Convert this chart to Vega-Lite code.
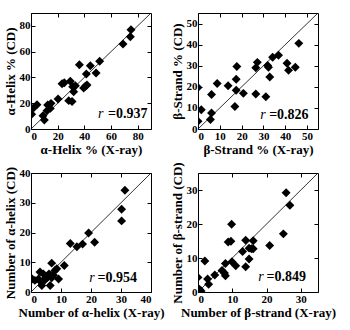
{
  "$schema": "https://vega.github.io/schema/vega-lite/v6.json",
  "padding": {"left": 3, "top": 12, "right": 5, "bottom": 2},
  "background": "white",
  "datasets": {
    "a": [
      {"x": 0.5, "y": 11.4}, {"x": 2, "y": 16.5}, {"x": 4.5, "y": 18.9}, {"x": 10, "y": 7},
      {"x": 9, "y": 10.3}, {"x": 12, "y": 14.2}, {"x": 12.5, "y": 18.6}, {"x": 15, "y": 19.9},
      {"x": 14.5, "y": 16}, {"x": 20.3, "y": 23.3}, {"x": 23.3, "y": 35.1}, {"x": 25, "y": 35.9},
      {"x": 28.3, "y": 22}, {"x": 30.8, "y": 21.4}, {"x": 29.5, "y": 37}, {"x": 31.3, "y": 32.8},
      {"x": 32, "y": 28.9}, {"x": 33.3, "y": 33.6}, {"x": 36.3, "y": 49.9}, {"x": 39.5, "y": 31.8},
      {"x": 40.8, "y": 33.1}, {"x": 42, "y": 34.1}, {"x": 41.5, "y": 42.6}, {"x": 44.5, "y": 49.1},
      {"x": 48.8, "y": 43.4}, {"x": 51.5, "y": 52.5}, {"x": 69, "y": 65.9}, {"x": 74.5, "y": 71.6},
      {"x": 75, "y": 77}
    ],
    "b": [
      {"x": 0, "y": 19.7}, {"x": 0, "y": 3.7}, {"x": 1.5, "y": 9.1}, {"x": 5.7, "y": 4.5},
      {"x": 6.2, "y": 7.6}, {"x": 6.2, "y": 16.4}, {"x": 8.8, "y": 21.6}, {"x": 13.8, "y": 20.5},
      {"x": 16.9, "y": 10.7}, {"x": 17.5, "y": 23.6}, {"x": 17.8, "y": 29.6}, {"x": 17.5, "y": 18.4},
      {"x": 20.8, "y": 16.9}, {"x": 26.5, "y": 16.6}, {"x": 26.5, "y": 29}, {"x": 27.2, "y": 31.6},
      {"x": 31.1, "y": 15.3}, {"x": 31.9, "y": 30.1}, {"x": 32.3, "y": 29.3}, {"x": 32.9, "y": 24.7},
      {"x": 34.2, "y": 34}, {"x": 36.9, "y": 35}, {"x": 40.8, "y": 31.2}, {"x": 41.5, "y": 27.8},
      {"x": 44.6, "y": 29.3}, {"x": 46.2, "y": 40.6}
    ],
    "c": [
      {"x": 0.4, "y": 4.4}, {"x": 1.3, "y": 3.9}, {"x": 3, "y": 6.7}, {"x": 3.4, "y": 3.3},
      {"x": 4.1, "y": 6.1}, {"x": 3.6, "y": 2.2}, {"x": 4.7, "y": 4.1}, {"x": 5.3, "y": 4.8},
      {"x": 5.8, "y": 5.2}, {"x": 6.4, "y": 2.2}, {"x": 6.9, "y": 9.7}, {"x": 6.9, "y": 4.8},
      {"x": 7.5, "y": 5.6}, {"x": 8, "y": 7.2}, {"x": 8.6, "y": 7.8}, {"x": 9.2, "y": 4.4},
      {"x": 11.1, "y": 8.9}, {"x": 2.5, "y": 4.4}, {"x": 4.1, "y": 3.9}, {"x": 6, "y": 6.1},
      {"x": 13.1, "y": 16.3}, {"x": 15.3, "y": 15.2}, {"x": 17.2, "y": 16.1}, {"x": 19.2, "y": 19.8},
      {"x": 21.2, "y": 16.7}, {"x": 30.2, "y": 27.8}, {"x": 30.2, "y": 23.9}, {"x": 31.3, "y": 34.2}
    ],
    "d": [
      {"x": 0, "y": 4.3}, {"x": 0.4, "y": 0.8}, {"x": 0.9, "y": 0.3}, {"x": 2, "y": 9.1},
      {"x": 2.8, "y": 3.8}, {"x": 3.1, "y": 2.3}, {"x": 4.9, "y": 5}, {"x": 7, "y": 6.3},
      {"x": 7.7, "y": 5.6}, {"x": 8, "y": 4.8}, {"x": 8, "y": 8.4}, {"x": 8.8, "y": 14.7},
      {"x": 9.6, "y": 14.9}, {"x": 9.8, "y": 19.9}, {"x": 9.9, "y": 8.9}, {"x": 11, "y": 7.7},
      {"x": 13, "y": 11.9}, {"x": 13.9, "y": 15.2}, {"x": 13.9, "y": 7.4}, {"x": 14.9, "y": 9.7},
      {"x": 14.9, "y": 12.9}, {"x": 15.6, "y": 12.7}, {"x": 16.1, "y": 12.7}, {"x": 16.1, "y": 15.1},
      {"x": 20.9, "y": 13.7}, {"x": 24.9, "y": 17.1}, {"x": 25.7, "y": 29.2}, {"x": 26.8, "y": 25.5}
    ]
  },
  "concat": [
    {
      "width": 120, "height": 116,
      "layer": [
        {
          "data": {"name": "a"},
          "mark": {"type": "point", "shape": "diamond", "filled": true, "color": "black", "size": 80, "opacity": 1, "clip": true},
          "encoding": {
            "x": {"field": "x", "type": "quantitative", "scale": {"domain": [0, 90], "nice": false, "zero": false},
                  "axis": {"orient": "bottom", "values": [0, 20, 40, 60, 80], "title": "α-Helix % (X-ray)"}},
            "y": {"field": "y", "type": "quantitative", "scale": {"domain": [0, 90], "nice": false, "zero": false},
                  "axis": {"orient": "left", "values": [0, 20, 40, 60, 80], "title": "α-Helix % (CD)"}}
          }
        },
        {
          "data": {"values": [{}]},
          "mark": {"type": "rule", "color": "black", "strokeWidth": 0.8},
          "encoding": {
            "x": {"datum": 0, "type": "quantitative", "axis": {"orient": "top", "labels": false, "title": null, "values": [0, 20, 40, 60, 80]}},
            "y": {"datum": 0, "type": "quantitative", "axis": {"orient": "right", "labels": false, "title": null, "values": [0, 20, 40, 60, 80]}},
            "x2": {"datum": 90}, "y2": {"datum": 90}
          }
        },
        {
          "data": {"values": [{}]},
          "mark": {"type": "text", "text": "r", "font": "Liberation Serif", "fontStyle": "italic", "fontSize": 14, "align": "left", "baseline": "middle"},
          "encoding": {"x": {"datum": 50.3, "type": "quantitative", "axis": null}, "y": {"datum": 11.6, "type": "quantitative", "axis": null}}
        },
        {
          "data": {"values": [{}]},
          "mark": {"type": "text", "text": "=0.937", "font": "Liberation Serif", "fontWeight": "bold", "fontSize": 14, "align": "left", "baseline": "middle"},
          "encoding": {"x": {"datum": 57.8, "type": "quantitative", "axis": null}, "y": {"datum": 11.6, "type": "quantitative", "axis": null}}
        }
      ],
      "resolve": {"axis": {"x": "independent", "y": "independent"}}
    },
    {
      "width": 120, "height": 116,
      "layer": [
        {
          "data": {"name": "b"},
          "mark": {"type": "point", "shape": "diamond", "filled": true, "color": "black", "size": 80, "opacity": 1, "clip": true},
          "encoding": {
            "x": {"field": "x", "type": "quantitative", "scale": {"domain": [0, 55], "nice": false, "zero": false},
                  "axis": {"orient": "bottom", "values": [0, 10, 20, 30, 40, 50], "title": "β-Strand % (X-ray)"}},
            "y": {"field": "y", "type": "quantitative", "scale": {"domain": [0, 55], "nice": false, "zero": false},
                  "axis": {"orient": "left", "values": [0, 10, 20, 30, 40, 50], "title": "β-Strand % (CD)"}}
          }
        },
        {
          "data": {"values": [{}]},
          "mark": {"type": "rule", "color": "black", "strokeWidth": 0.8},
          "encoding": {
            "x": {"datum": 0, "type": "quantitative", "axis": {"orient": "top", "labels": false, "title": null, "values": [0, 10, 20, 30, 40, 50]}},
            "y": {"datum": 0, "type": "quantitative", "axis": {"orient": "right", "labels": false, "title": null, "values": [0, 10, 20, 30, 40, 50]}},
            "x2": {"datum": 55}, "y2": {"datum": 55}
          }
        },
        {
          "data": {"values": [{}]},
          "mark": {"type": "text", "text": "r", "font": "Liberation Serif", "fontStyle": "italic", "fontSize": 14, "align": "left", "baseline": "middle"},
          "encoding": {"x": {"datum": 28.5, "type": "quantitative", "axis": null}, "y": {"datum": 6.6, "type": "quantitative", "axis": null}}
        },
        {
          "data": {"values": [{}]},
          "mark": {"type": "text", "text": "=0.826", "font": "Liberation Serif", "fontWeight": "bold", "fontSize": 14, "align": "left", "baseline": "middle"},
          "encoding": {"x": {"datum": 32.6, "type": "quantitative", "axis": null}, "y": {"datum": 6.6, "type": "quantitative", "axis": null}}
        }
      ],
      "resolve": {"axis": {"x": "independent", "y": "independent"}}
    },
    {
      "width": 120, "height": 119,
      "layer": [
        {
          "data": {"name": "c"},
          "mark": {"type": "point", "shape": "diamond", "filled": true, "color": "black", "size": 80, "opacity": 1, "clip": true},
          "encoding": {
            "x": {"field": "x", "type": "quantitative", "scale": {"domain": [0, 40], "nice": false, "zero": false},
                  "axis": {"orient": "bottom", "values": [0, 10, 20, 30, 40], "title": "Number of α-helix (X-ray)"}},
            "y": {"field": "y", "type": "quantitative", "scale": {"domain": [0, 40], "nice": false, "zero": false},
                  "axis": {"orient": "left", "values": [0, 10, 20, 30, 40], "title": "Number of α-helix (CD)"}}
          }
        },
        {
          "data": {"values": [{}]},
          "mark": {"type": "rule", "color": "black", "strokeWidth": 0.8},
          "encoding": {
            "x": {"datum": 0, "type": "quantitative", "axis": {"orient": "top", "labels": false, "title": null, "values": [0, 10, 20, 30, 40]}},
            "y": {"datum": 0, "type": "quantitative", "axis": {"orient": "right", "labels": false, "title": null, "values": [0, 10, 20, 30, 40]}},
            "x2": {"datum": 40}, "y2": {"datum": 40}
          }
        },
        {
          "data": {"values": [{}]},
          "mark": {"type": "text", "text": "r", "font": "Liberation Serif", "fontStyle": "italic", "fontSize": 14, "align": "left", "baseline": "middle"},
          "encoding": {"x": {"datum": 19.4, "type": "quantitative", "axis": null}, "y": {"datum": 4.7, "type": "quantitative", "axis": null}}
        },
        {
          "data": {"values": [{}]},
          "mark": {"type": "text", "text": "=0.954", "font": "Liberation Serif", "fontWeight": "bold", "fontSize": 14, "align": "left", "baseline": "middle"},
          "encoding": {"x": {"datum": 22.2, "type": "quantitative", "axis": null}, "y": {"datum": 4.7, "type": "quantitative", "axis": null}}
        }
      ],
      "resolve": {"axis": {"x": "independent", "y": "independent"}}
    },
    {
      "width": 120, "height": 119,
      "layer": [
        {
          "data": {"name": "d"},
          "mark": {"type": "point", "shape": "diamond", "filled": true, "color": "black", "size": 80, "opacity": 1, "clip": true},
          "encoding": {
            "x": {"field": "x", "type": "quantitative", "scale": {"domain": [0, 35], "nice": false, "zero": false},
                  "axis": {"orient": "bottom", "values": [0, 10, 20, 30], "title": "Number of  β-strand (X-ray)"}},
            "y": {"field": "y", "type": "quantitative", "scale": {"domain": [0, 35], "nice": false, "zero": false},
                  "axis": {"orient": "left", "values": [0, 10, 20, 30], "title": "Number of  β-strand (CD)"}}
          }
        },
        {
          "data": {"values": [{}]},
          "mark": {"type": "rule", "color": "black", "strokeWidth": 0.8},
          "encoding": {
            "x": {"datum": 0, "type": "quantitative", "axis": {"orient": "top", "labels": false, "title": null, "values": [0, 10, 20, 30]}},
            "y": {"datum": 0, "type": "quantitative", "axis": {"orient": "right", "labels": false, "title": null, "values": [0, 10, 20, 30]}},
            "x2": {"datum": 35}, "y2": {"datum": 35}
          }
        },
        {
          "data": {"values": [{}]},
          "mark": {"type": "text", "text": "r", "font": "Liberation Serif", "fontStyle": "italic", "fontSize": 14, "align": "left", "baseline": "middle"},
          "encoding": {"x": {"datum": 17.6, "type": "quantitative", "axis": null}, "y": {"datum": 4.5, "type": "quantitative", "axis": null}}
        },
        {
          "data": {"values": [{}]},
          "mark": {"type": "text", "text": "=0.849", "font": "Liberation Serif", "fontWeight": "bold", "fontSize": 14, "align": "left", "baseline": "middle"},
          "encoding": {"x": {"datum": 20, "type": "quantitative", "axis": null}, "y": {"datum": 4.5, "type": "quantitative", "axis": null}}
        }
      ],
      "resolve": {"axis": {"x": "independent", "y": "independent"}}
    }
  ],
  "columns": 2,
  "spacing": {"row": 2, "column": 5},
  "config": {
    "view": {"stroke": "black", "strokeWidth": 1},
    "axis": {
      "grid": false, "domain": false, "tickColor": "black", "tickSize": -4, "ticks": true,
      "labelFont": "Liberation Serif", "labelFontWeight": "bold", "labelFontSize": 11, "labelColor": "black", "labelPadding": 5,
      "titleFont": "Liberation Serif", "titleFontWeight": "bold", "titleFontSize": 13, "titleColor": "black", "titlePadding": 2
    }
  }
}
